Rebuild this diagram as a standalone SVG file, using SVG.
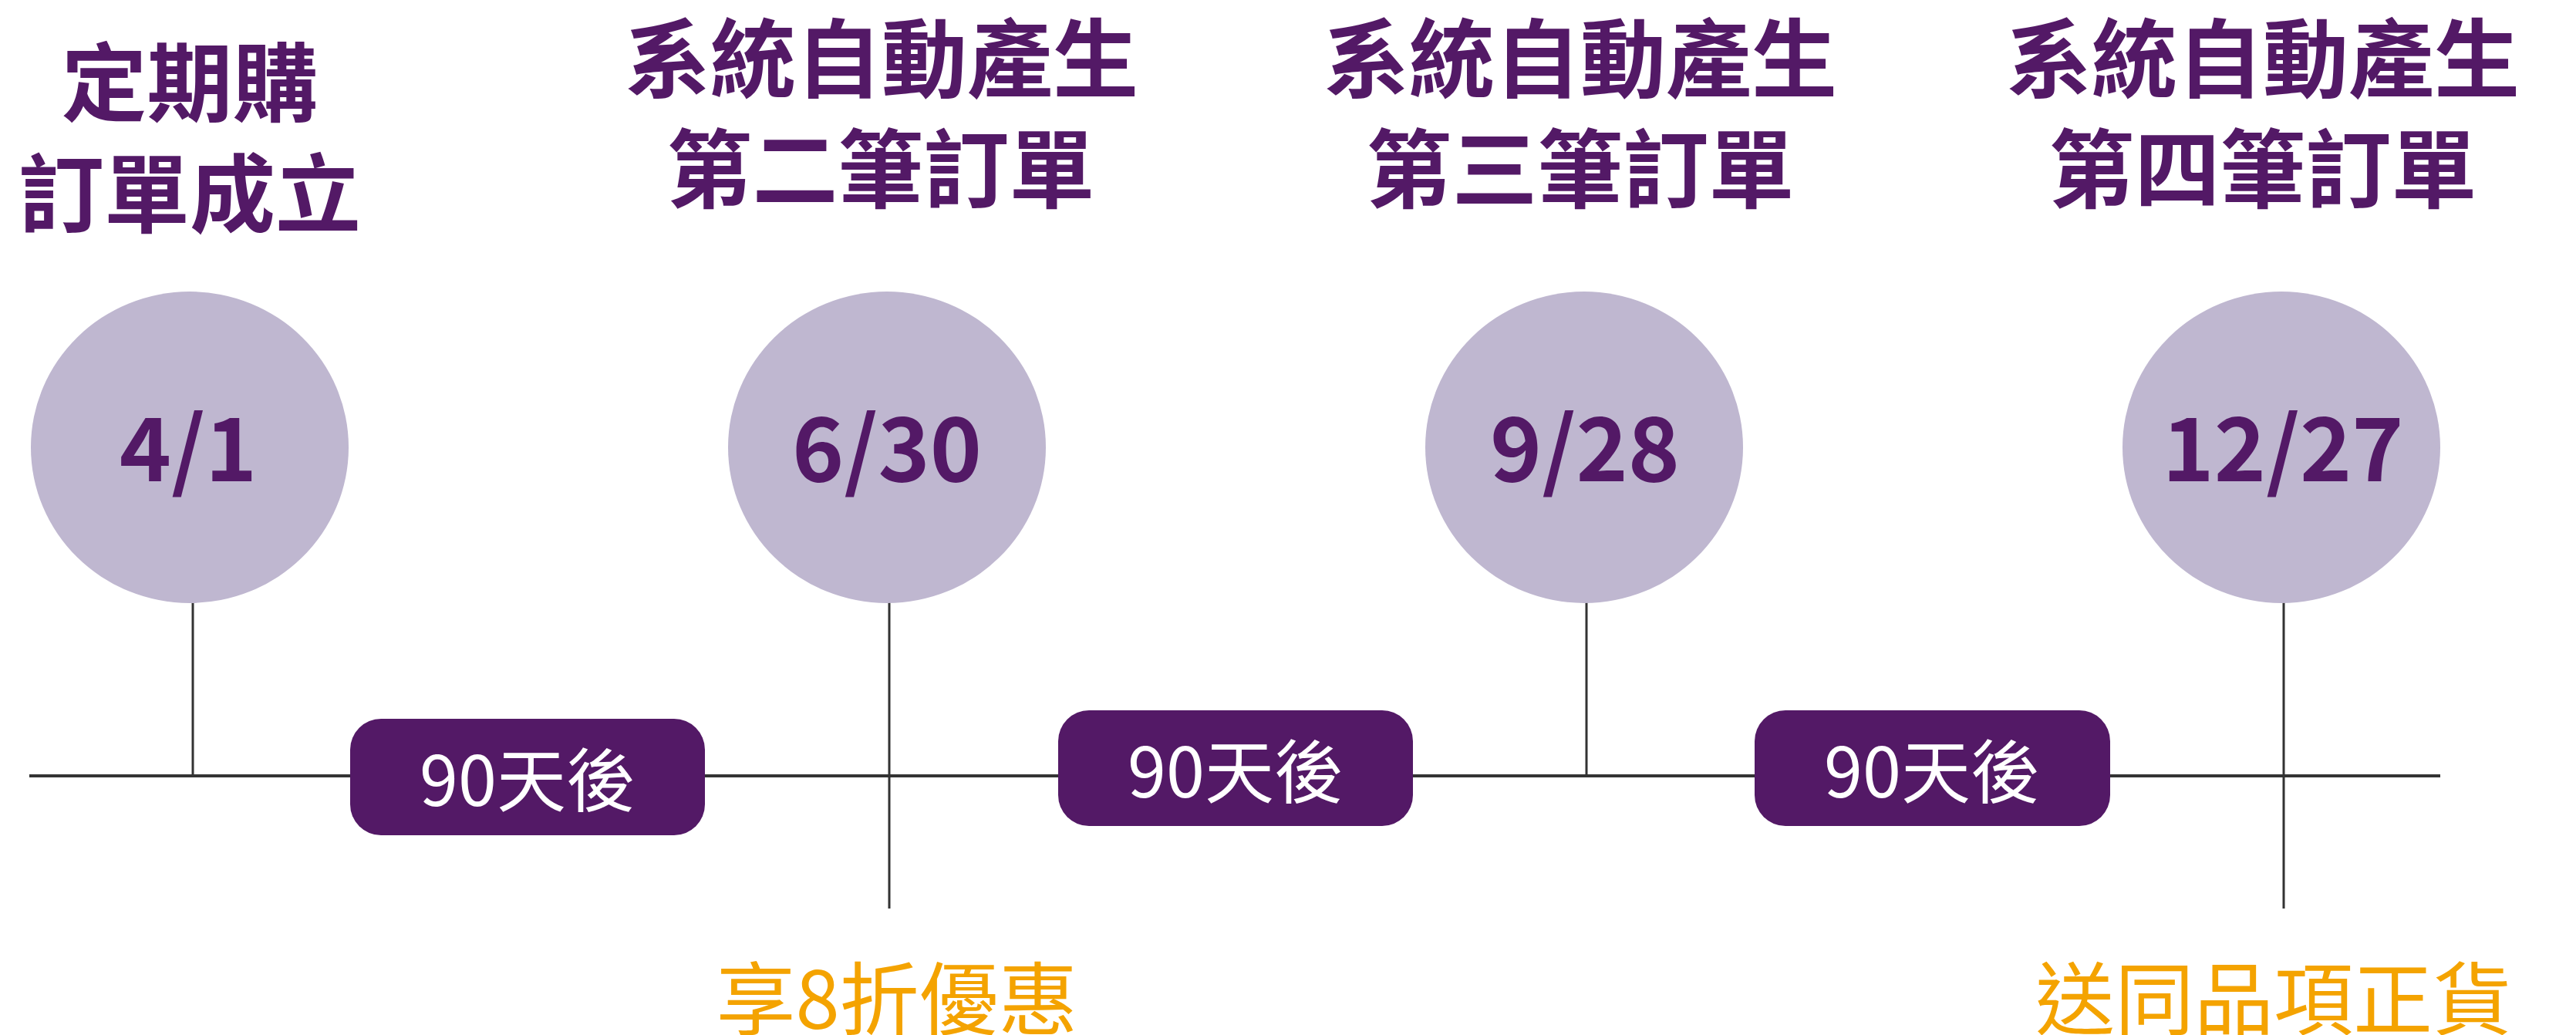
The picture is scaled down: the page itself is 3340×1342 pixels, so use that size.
<svg xmlns="http://www.w3.org/2000/svg" width="3340" height="1342" viewBox="0 0 3340 1342">
<style>
.title{font-family:"Noto Sans CJK TC","Noto Sans CJK SC",sans-serif;font-weight:700;font-size:111px;fill:#531966;text-anchor:middle}
.date{font-family:"Noto Sans CJK TC","Noto Sans CJK SC",sans-serif;font-weight:700;font-size:114px;fill:#531966;text-anchor:middle}
.circ{fill:#BFB7D0}
.pill{fill:#531966}
.ptxt{font-family:"Noto Sans CJK TC","Noto Sans CJK SC",sans-serif;font-weight:400;font-size:90px;fill:#ffffff;text-anchor:middle}
.note{font-family:"Noto Sans CJK TC","Noto Sans CJK SC",sans-serif;font-weight:400;font-size:103px;fill:#F4A300;text-anchor:middle}
.line{stroke:#333333;fill:none}
</style>
<rect width="3340" height="1342" fill="#ffffff"/>
<g id="connectors">
<line class="line" x1="38" y1="1006" x2="3164" y2="1006" stroke-width="4"/>
<line class="line" x1="250" y1="780" x2="250" y2="1006" stroke-width="3"/>
<line class="line" x1="1153" y1="780" x2="1153" y2="1178" stroke-width="3"/>
<line class="line" x1="2057" y1="780" x2="2057" y2="1006" stroke-width="3"/>
<line class="line" x1="2961" y1="780" x2="2961" y2="1178" stroke-width="3"/>
</g>
<g id="node-1">
<text class="title" x="246" y="149">定期購</text>
<text class="title" x="246" y="293">訂單成立</text>
<ellipse class="circ" cx="246" cy="580" rx="206" ry="202"/>
<text class="date" x="244" y="624">4/1</text>
</g>
<g id="node-2">
<text class="title" x="1143" y="118">系統自動產生</text>
<text class="title" x="1142" y="261">第二筆訂單</text>
<ellipse class="circ" cx="1150" cy="580" rx="206" ry="202"/>
<text class="date" x="1150" y="624">6/30</text>
<text class="note" x="1163" y="1334">享8折優惠</text>
</g>
<g id="node-3">
<text class="title" x="2049" y="118">系統自動產生</text>
<text class="title" x="2049" y="261">第三筆訂單</text>
<ellipse class="circ" cx="2054" cy="580" rx="206" ry="202"/>
<text class="date" x="2055" y="624">9/28</text>
</g>
<g id="node-4">
<text class="title" x="2934" y="118">系統自動產生</text>
<text class="title" x="2934" y="261">第四筆訂單</text>
<ellipse class="circ" cx="2958" cy="580" rx="206" ry="202"/>
<text class="date" x="2960" y="624">12/27</text>
<text class="note" x="2948" y="1334">送同品項正貨</text>
</g>
<g id="pill-1">
<rect class="pill" x="454" y="932" width="460" height="151" rx="40" ry="40"/>
<text class="ptxt" x="684" y="1045">90天後</text>
</g>
<g id="pill-2">
<rect class="pill" x="1372" y="921" width="460" height="150" rx="40" ry="40"/>
<text class="ptxt" x="1602" y="1034">90天後</text>
</g>
<g id="pill-3">
<rect class="pill" x="2275" y="921" width="461" height="150" rx="40" ry="40"/>
<text class="ptxt" x="2505" y="1034">90天後</text>
</g>
</svg>
